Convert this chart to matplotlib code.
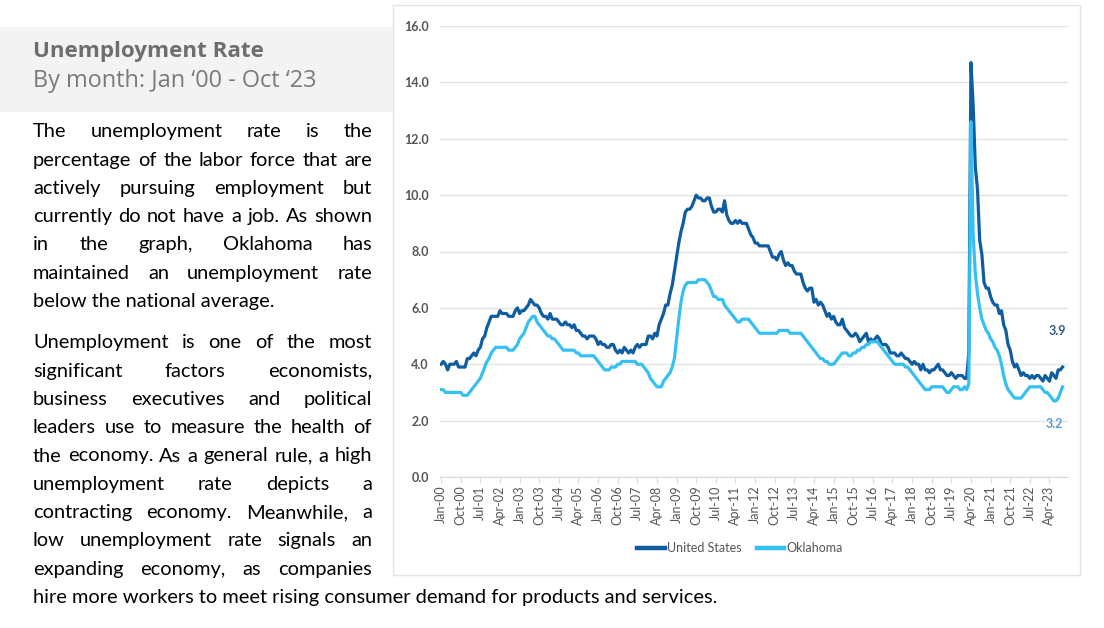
import matplotlib
matplotlib.use("Agg")
import matplotlib.pyplot as plt
from matplotlib.patches import Rectangle
import numpy as np

# Unemployment rate by month, Jan 2000 - Oct 2023 (percent)

us_rate = [
    4.0, 4.1, 4.0, 3.8, 4.0, 4.0, 4.0, 4.1, 3.9, 3.9, 3.9, 3.9,   # 2000
    4.2, 4.2, 4.3, 4.4, 4.3, 4.5, 4.6, 4.9, 5.0, 5.3, 5.5, 5.7,   # 2001
    5.7, 5.7, 5.7, 5.9, 5.8, 5.8, 5.8, 5.7, 5.7, 5.7, 5.9, 6.0,   # 2002
    5.8, 5.9, 5.9, 6.0, 6.1, 6.3, 6.2, 6.1, 6.1, 6.0, 5.8, 5.7,   # 2003
    5.7, 5.6, 5.8, 5.6, 5.6, 5.6, 5.5, 5.4, 5.4, 5.5, 5.4, 5.4,   # 2004
    5.3, 5.4, 5.2, 5.2, 5.1, 5.0, 5.0, 4.9, 5.0, 5.0, 5.0, 4.9,   # 2005
    4.7, 4.8, 4.7, 4.7, 4.6, 4.6, 4.7, 4.7, 4.5, 4.4, 4.5, 4.4,   # 2006
    4.6, 4.5, 4.4, 4.5, 4.4, 4.6, 4.7, 4.6, 4.7, 4.7, 4.7, 5.0,   # 2007
    5.0, 4.9, 5.1, 5.0, 5.4, 5.6, 5.8, 6.1, 6.1, 6.5, 6.8, 7.3,   # 2008
    7.8, 8.3, 8.7, 9.0, 9.4, 9.5, 9.5, 9.6, 9.8, 10.0, 9.9, 9.9,  # 2009
    9.8, 9.8, 9.9, 9.9, 9.6, 9.4, 9.4, 9.5, 9.5, 9.4, 9.8, 9.3,   # 2010
    9.1, 9.0, 9.0, 9.1, 9.0, 9.1, 9.0, 9.0, 9.0, 8.8, 8.6, 8.5,   # 2011
    8.3, 8.3, 8.2, 8.2, 8.2, 8.2, 8.2, 8.0, 7.8, 7.8, 7.7, 7.9,   # 2012
    8.0, 7.7, 7.5, 7.6, 7.5, 7.5, 7.3, 7.2, 7.2, 7.2, 6.9, 6.7,   # 2013
    6.6, 6.7, 6.7, 6.2, 6.3, 6.1, 6.2, 6.1, 5.9, 5.7, 5.8, 5.6,   # 2014
    5.7, 5.5, 5.4, 5.4, 5.6, 5.3, 5.2, 5.1, 5.0, 5.0, 5.1, 5.0,   # 2015
    4.8, 4.9, 5.0, 5.1, 4.8, 4.9, 4.8, 4.9, 5.0, 4.9, 4.7, 4.7,   # 2016
    4.7, 4.6, 4.4, 4.4, 4.4, 4.3, 4.3, 4.4, 4.3, 4.2, 4.2, 4.1,   # 2017
    4.0, 4.1, 4.0, 4.0, 3.8, 4.0, 3.8, 3.8, 3.7, 3.8, 3.8, 3.9,   # 2018
    4.0, 3.8, 3.8, 3.7, 3.6, 3.6, 3.7, 3.6, 3.5, 3.6, 3.6, 3.6,   # 2019
    3.5, 3.5, 4.4, 14.7, 13.2, 11.0, 10.2, 8.4, 7.9, 6.9, 6.7, 6.7,  # 2020
    6.4, 6.2, 6.1, 6.1, 5.8, 5.9, 5.4, 5.2, 4.7, 4.5, 4.1, 3.9,   # 2021
    4.0, 3.8, 3.6, 3.7, 3.6, 3.6, 3.5, 3.6, 3.5, 3.6, 3.6, 3.5,   # 2022
    3.4, 3.6, 3.5, 3.4, 3.7, 3.6, 3.5, 3.8, 3.8, 3.9,             # 2023
]

ok_rate = [
    3.1, 3.1, 3.0, 3.0, 3.0, 3.0, 3.0, 3.0, 3.0, 3.0, 2.9, 2.9,   # 2000
    2.9, 3.0, 3.1, 3.2, 3.3, 3.4, 3.5, 3.7, 3.9, 4.1, 4.2, 4.4,   # 2001
    4.5, 4.6, 4.6, 4.6, 4.6, 4.6, 4.6, 4.5, 4.5, 4.5, 4.6, 4.7,   # 2002
    4.9, 5.0, 5.1, 5.3, 5.5, 5.6, 5.7, 5.7, 5.5, 5.4, 5.3, 5.2,   # 2003
    5.1, 5.0, 5.0, 4.9, 4.9, 4.8, 4.7, 4.6, 4.5, 4.5, 4.5, 4.5,   # 2004
    4.5, 4.5, 4.4, 4.4, 4.3, 4.3, 4.3, 4.3, 4.3, 4.3, 4.3, 4.2,   # 2005
    4.1, 4.0, 3.9, 3.8, 3.8, 3.8, 3.9, 3.9, 3.9, 4.0, 4.0, 4.1,   # 2006
    4.1, 4.1, 4.1, 4.1, 4.1, 4.1, 4.0, 4.0, 4.0, 3.9, 3.8, 3.7,   # 2007
    3.5, 3.4, 3.3, 3.2, 3.2, 3.2, 3.4, 3.5, 3.6, 3.7, 3.9, 4.2,   # 2008
    4.9, 5.6, 6.2, 6.6, 6.8, 6.9, 6.9, 6.9, 6.9, 6.9, 7.0, 7.0,   # 2009
    7.0, 7.0, 6.9, 6.8, 6.6, 6.4, 6.4, 6.3, 6.3, 6.3, 6.1, 6.0,   # 2010
    5.9, 5.8, 5.7, 5.6, 5.5, 5.5, 5.6, 5.6, 5.6, 5.6, 5.5, 5.4,   # 2011
    5.3, 5.2, 5.1, 5.1, 5.1, 5.1, 5.1, 5.1, 5.1, 5.1, 5.1, 5.2,   # 2012
    5.2, 5.2, 5.2, 5.2, 5.1, 5.1, 5.1, 5.1, 5.1, 5.1, 5.0, 4.9,   # 2013
    4.8, 4.7, 4.6, 4.5, 4.4, 4.3, 4.2, 4.2, 4.1, 4.1, 4.0, 4.0,   # 2014
    4.0, 4.1, 4.2, 4.3, 4.4, 4.4, 4.4, 4.3, 4.3, 4.4, 4.4, 4.5,   # 2015
    4.5, 4.6, 4.6, 4.7, 4.7, 4.8, 4.8, 4.8, 4.8, 4.7, 4.6, 4.5,   # 2016
    4.4, 4.3, 4.2, 4.1, 4.0, 4.0, 4.0, 4.0, 4.0, 3.9, 3.9, 3.8,   # 2017
    3.7, 3.6, 3.5, 3.4, 3.3, 3.2, 3.1, 3.1, 3.1, 3.2, 3.2, 3.2,   # 2018
    3.2, 3.2, 3.2, 3.1, 3.0, 3.0, 3.1, 3.2, 3.2, 3.2, 3.1, 3.1,   # 2019
    3.2, 3.1, 3.3, 12.6, 8.6, 7.2, 6.5, 6.0, 5.6, 5.4, 5.2, 5.1,  # 2020
    4.9, 4.8, 4.6, 4.5, 4.3, 4.0, 3.6, 3.3, 3.1, 3.0, 2.9, 2.8,   # 2021
    2.8, 2.8, 2.8, 2.9, 3.0, 3.1, 3.2, 3.2, 3.2, 3.2, 3.2, 3.2,   # 2022
    3.1, 3.0, 3.0, 2.9, 2.8, 2.7, 2.7, 2.8, 3.0, 3.2,             # 2023
]

tick_labels = ['Jan-00', 'Oct-00', 'Jul-01', 'Apr-02', 'Jan-03', 'Oct-03', 'Jul-04', 'Apr-05',
               'Jan-06', 'Oct-06', 'Jul-07', 'Apr-08', 'Jan-09', 'Oct-09', 'Jul-10', 'Apr-11',
               'Jan-12', 'Oct-12', 'Jul-13', 'Apr-14', 'Jan-15', 'Oct-15', 'Jul-16', 'Apr-17',
               'Jan-18', 'Oct-18', 'Jul-19', 'Apr-20', 'Jan-21', 'Oct-21', 'Jul-22', 'Apr-23']

title = 'Unemployment Rate'
subtitle = 'By month: Jan \u201800 - Oct \u201823'

para1 = ['The unemployment rate is the',
         'percentage of the labor force that are',
         'actively pursuing employment but',
         'currently do not have a job. As shown',
         'in the graph, Oklahoma has',
         'maintained an unemployment rate',
         'below the national average.']
para2 = ['Unemployment is one of the most',
         'significant factors economists,',
         'business executives and political',
         'leaders use to measure the health of',
         'the economy. As a general rule, a high',
         'unemployment rate depicts a',
         'contracting economy. Meanwhile, a',
         'low unemployment rate signals an',
         'expanding economy, as companies',
         'hire more workers to meet rising consumer demand for products and services.']

US_COLOR = '#0f5da0'
OK_COLOR = '#34c0f3'
GRAY = '#555555'

W, H = 1104, 628
fig = plt.figure(figsize=(W / 100, H / 100), dpi=100)
fig.patch.set_facecolor('white')
renderer = fig.canvas.get_renderer()


def fx(x):
    return x / W


def fy(y):
    return 1 - y / H


def text_width(s, **kw):
    t = fig.text(0, 0, s, **kw)
    w = t.get_window_extent(renderer).width
    t.remove()
    return w


# background panels
fig.patches.append(Rectangle((0, fy(112)), fx(393), 85 / H, transform=fig.transFigure,
                             facecolor='#f3f3f3', edgecolor='none', zorder=-10))
fig.patches.append(Rectangle((fx(393), fy(575)), fx(1080 - 393), 570 / H, transform=fig.transFigure,
                             facecolor='white', edgecolor='#e4e4e4', lw=1, zorder=-10))

# title block
tfs = 14 * 232 / text_width(title, fontsize=14, family='Open Sans', weight='bold')
fig.text(fx(33), fy(57), title, fontsize=tfs, family='Open Sans', weight='bold',
         color='#6e6e6e', va='baseline')
sfs = 14 * 285 / text_width(subtitle, fontsize=14, family='Open Sans')
fig.text(fx(33), fy(87), subtitle, fontsize=sfs, family='Open Sans',
         color='#7a7a7a', va='baseline')

# body text, justified between x=33 and x=372
body_kw = dict(family='Lato', color='#000000')
bfs = 13 * 684 / text_width(para2[-1], fontsize=13, **body_kw)
body_kw['fontsize'] = bfs
left, right = 33, 372


def draw_paragraph(lines, y0, step=28.3):
    for i, line in enumerate(lines):
        yb = y0 + i * step
        if i == len(lines) - 1:
            fig.text(fx(left), fy(yb), line, va='baseline', **body_kw)
            continue
        words = line.split()
        widths = [text_width(w, **body_kw) for w in words]
        gap = (right - left - sum(widths)) / (len(words) - 1)
        x = left
        for w, ww in zip(words, widths):
            fig.text(fx(x), fy(yb), w, va='baseline', **body_kw)
            x += ww + gap


draw_paragraph(para1, 137.3)
draw_paragraph(para2, 348.3)

# chart
ax = fig.add_axes([fx(440), 151 / H, fx(1068 - 440), 451 / H])
ax.set_zorder(1)
ax.patch.set_alpha(0)
x = np.arange(len(us_rate))
l_us, = ax.plot(x, us_rate, color=US_COLOR, lw=2.3, solid_joinstyle='round', zorder=3)
l_ok, = ax.plot(x, ok_rate, color=OK_COLOR, lw=2.3, solid_joinstyle='round', zorder=4)

ax.set_xlim(-0.5, 287.5)
ax.set_ylim(0, 16)
yt = np.arange(0, 17, 2)
ax.set_yticks(yt, [f'{v:.1f}' for v in yt], fontsize=9, family='Lato', weight='bold', color=GRAY)
ax.set_xticks(np.arange(0, len(us_rate), 9), tick_labels, rotation=90, fontsize=9,
              family='Lato', color=GRAY)
ax.tick_params(axis='y', length=0, pad=8)
ax.tick_params(axis='x', length=4, color='#d9d9d9', pad=2)
ax.grid(axis='y', color='#e3e3e3', lw=1)
ax.set_axisbelow(True)
for s in ['top', 'right', 'left']:
    ax.spines[s].set_visible(False)
ax.spines['bottom'].set_color('#d9d9d9')

ax.annotate(f'{us_rate[-1]:.1f}', xy=(x[-1], us_rate[-1]), xytext=(-5, 36),
            textcoords='offset pixels', ha='center', va='center', fontsize=9,
            family='Lato', weight='bold', color='#305a8c')
ax.annotate(f'{ok_rate[-1]:.1f}', xy=(x[-1], ok_rate[-1]), xytext=(-8, -37),
            textcoords='offset pixels', ha='center', va='center', fontsize=9,
            family='Lato', weight='bold', color='#5b9bd5')

leg = fig.legend([l_us, l_ok], ['United States', 'Oklahoma'], loc='center',
                 bbox_to_anchor=(fx(740), fy(548)), ncol=2, frameon=False,
                 prop={'family': 'Lato', 'size': 9}, labelcolor=GRAY,
                 handlelength=2.2, handletextpad=0.2, columnspacing=1.2)
for h in leg.legend_handles:
    h.set_linewidth(3.2)

fig.savefig('out.png', dpi=100, facecolor='white')
